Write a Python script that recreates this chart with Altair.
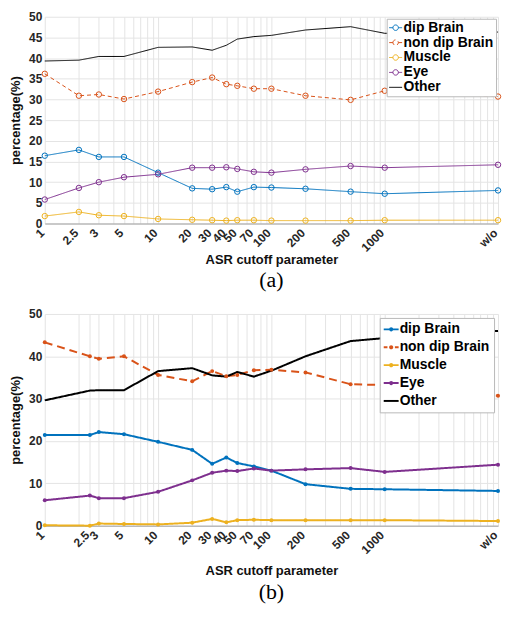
import altair as alt
import pandas as pd

cutoff_labels = ["1", "2.5", "3", "5", "10", "20", "30", "40", "50", "70", "100", "200", "500", "1000", "w/o"]
pos_a = [1, 2, 3, 5, 10, 20, 30, 40, 50, 70, 100, 200, 500, 1000, 10000]
pos_b = [1, 2.5, 3, 5, 10, 20, 30, 40, 50, 70, 100, 200, 500, 1000, 10000]

series_names = ["dip Brain", "non dip Brain", "Muscle", "Eye", "Other"]
series_colors = ["#0072BD", "#D95319", "#EDB120", "#7E2F8E", "#000000"]

# panel (a)
dip_a = [16.4, 17.8, 16.1, 16.1, 12.3, 8.5, 8.3, 8.8, 7.7, 8.8, 8.7, 8.4, 7.7, 7.2, 8.0]
nondip_a = [36.2, 30.9, 31.2, 30.1, 31.9, 34.2, 35.3, 33.7, 33.3, 32.6, 32.6, 30.9, 29.9, 32.1, 30.7]
muscle_a = [1.8, 2.8, 2.0, 1.8, 1.1, 0.9, 0.8, 0.7, 0.8, 0.8, 0.7, 0.7, 0.7, 0.8, 0.8]
eye_a = [5.8, 8.6, 10.0, 11.2, 11.9, 13.5, 13.5, 13.6, 13.2, 12.5, 12.3, 13.1, 13.9, 13.5, 14.2]
other_a = [39.3, 39.5, 40.4, 40.4, 42.6, 42.7, 41.9, 43.1, 44.6, 45.2, 45.5, 46.8, 47.6, 46.0, 46.3]

# panel (b)
dip_b = [21.4, 21.4, 22.1, 21.6, 19.8, 17.9, 14.6, 16.1, 14.8, 14.0, 13.0, 9.8, 8.7, 8.6, 8.2]
nondip_b = [43.3, 40.0, 39.4, 40.0, 35.6, 34.1, 36.5, 35.3, 35.6, 36.7, 36.8, 36.2, 33.4, 33.2, 30.7]
muscle_b = [0.1, 0.0, 0.5, 0.4, 0.3, 0.7, 1.6, 0.8, 1.3, 1.4, 1.3, 1.3, 1.3, 1.3, 1.1]
eye_b = [6.0, 7.1, 6.5, 6.5, 8.0, 10.7, 12.5, 13.0, 12.9, 13.5, 13.0, 13.3, 13.6, 12.7, 14.4]
other_b = [29.6, 31.9, 32.0, 32.0, 36.5, 37.2, 35.5, 35.2, 36.3, 35.2, 36.6, 40.0, 43.6, 44.3, 46.0]

minor_grid = [m * d for d in [1, 10, 100, 1000] for m in range(1, 10)] + [10000]

FONT = "Liberation Sans"

# legend glyphs: line with open circle (a), line with dot (b)
open_mark = "M-1,0H-0.42M0.42,0H1M-0.42,0A0.42,0.42 0 1,1 0.42,0A0.42,0.42 0 1,1 -0.42,0Z"
open_line = "M-1,0H1"
dot_mark = ("M-1,-0.13H1V0.13H-1Z"
            "M-0.28,0A0.28,0.28 0 1,1 0.28,0A0.28,0.28 0 1,1 -0.28,0Z")
dot_dash = ("M-1,-0.13H-0.5V0.13H-1Z M0.5,-0.13H1V0.13H0.5Z"
            "M-0.28,0A0.28,0.28 0 1,1 0.28,0A0.28,0.28 0 1,1 -0.28,0Z")
dot_line = "M-1,-0.13H1V0.13H-1Z"
glyphs_a = [open_mark, open_mark, open_mark, open_mark, open_line]
glyphs_b = [dot_mark, dot_dash, dot_mark, dot_mark, dot_line]


def label_expr(pos, labels):
    expr = "''"
    for p, l in reversed(list(zip(pos, labels))):
        expr = f"datum.value == {p} ? '{l}' : ({expr})"
    return expr


def panel(pos, series_vals, caption, dash, stroke_w, filled, pt_size, ystep,
          width, height, glyphs, sym_size, sym_sw, row_pad, leg_off, leg_pad, ytitle_pad,
          xtitle_pad, cap_off):
    rows = []
    for name, arr in zip(series_names, series_vals):
        for p, lab, v in zip(pos, cutoff_labels, arr):
            rows.append({"series": name, "x": p, "label": lab, "value": v})
    df = pd.DataFrame(rows)

    xvals = sorted(set(minor_grid) | set(pos))
    x = alt.X("x:Q",
              scale=alt.Scale(type="log", domain=[1, 10000], nice=False),
              axis=alt.Axis(values=xvals, labelExpr=label_expr(pos, cutoff_labels),
                            labelAngle=315, labelBaseline="middle", labelAlign="right",
                            labelOffset=-3,
                            labelOverlap=False, labelFlush=False, labelBound=False,
                            labelFont=FONT, labelFontSize=12, labelFontWeight="bold",
                            labelColor="#262626", labelPadding=7, ticks=False,
                            grid=True, gridColor="#e4e4e4", gridWidth=1,
                            domainColor="#a0a0a0", domainWidth=1,
                            title="ASR cutoff parameter", titleFont=FONT, titleFontSize=13,
                            titleFontWeight="bold", titleColor="#111111", titlePadding=xtitle_pad))
    y = alt.Y("value:Q",
              scale=alt.Scale(domain=[0, 50], nice=False),
              axis=alt.Axis(values=list(range(0, 51, ystep)),
                            labelFont=FONT, labelFontSize=12, labelFontWeight="bold",
                            labelColor="#262626", labelPadding=3, ticks=False,
                            grid=True, gridColor="#e4e4e4", gridWidth=1,
                            domain=False,
                            title="percentage(%)", titleFont=FONT, titleFontSize=13,
                            titleFontWeight="bold", titleColor="#111111", titlePadding=ytitle_pad))
    color_scale = alt.Scale(domain=series_names, range=series_colors)
    legend = alt.Legend(title=None, orient="top-right", offset=leg_off,
                        fillColor="white", strokeColor="#b8b8b8", padding=leg_pad,
                        labelFont=FONT, labelFontSize=14, labelFontWeight="bold",
                        labelColor="#000000", labelOffset=1,
                        symbolSize=sym_size, symbolStrokeWidth=sym_sw,
                        rowPadding=row_pad, cornerRadius=0)
    # legend-only layer (no rows drawn) so each entry gets its own glyph
    leg = alt.Chart(df).transform_filter("false").mark_point(
        filled=filled, size=sym_size, strokeWidth=sym_sw, opacity=1
    ).encode(
        x=x, y=y,
        color=alt.Color("series:N", scale=color_scale, legend=legend),
        shape=alt.Shape("series:N", scale=alt.Scale(domain=series_names, range=glyphs),
                        legend=legend),
    )
    lines = alt.Chart(df).mark_line(strokeWidth=stroke_w).encode(
        x=x, y=y,
        color=alt.Color("series:N", scale=color_scale, legend=None),
        strokeDash=alt.StrokeDash("series:N",
                                  scale=alt.Scale(domain=series_names,
                                                  range=[[1, 0], dash, [1, 0], [1, 0], [1, 0]]),
                                  legend=None),
    )
    pts = alt.Chart(df).transform_filter("datum.series != 'Other'").mark_point(
        filled=filled, size=pt_size, strokeWidth=1, opacity=1
    ).encode(
        x=x, y=y,
        color=alt.Color("series:N", scale=color_scale, legend=None),
    )
    return alt.layer(leg, lines, pts).properties(
        width=width, height=height,
        title=alt.TitleParams(caption, orient="bottom", anchor="middle", frame="group",
                              font="Liberation Serif", fontSize=22, fontWeight="normal",
                              color="#000000", offset=cap_off),
    )


chart_a = panel(pos_a, [dip_a, nondip_a, muscle_a, eye_a, other_a], "(a)", [4, 3], 1, False, 30, 5,
                456, 208, glyphs_a, 169, 1, 1, 2, 2, 6, 0, 4)
chart_b = panel(pos_b, [dip_b, nondip_b, muscle_b, eye_b, other_b], "(b)", [8, 5], 2, True, 16, 10,
                456, 213, glyphs_b, 225, 0, 3, 4, 4, 6, 9, 5)

chart = alt.vconcat(chart_a, chart_b, spacing=16).resolve_scale(
    color="independent", strokeDash="independent", shape="independent"
).configure_view(stroke=None).properties(
    padding={"left": 1, "top": 1, "right": 0, "bottom": 0},
    background="white",
)

chart.save("out.html", embed_options={"renderer": "svg", "actions": False})
